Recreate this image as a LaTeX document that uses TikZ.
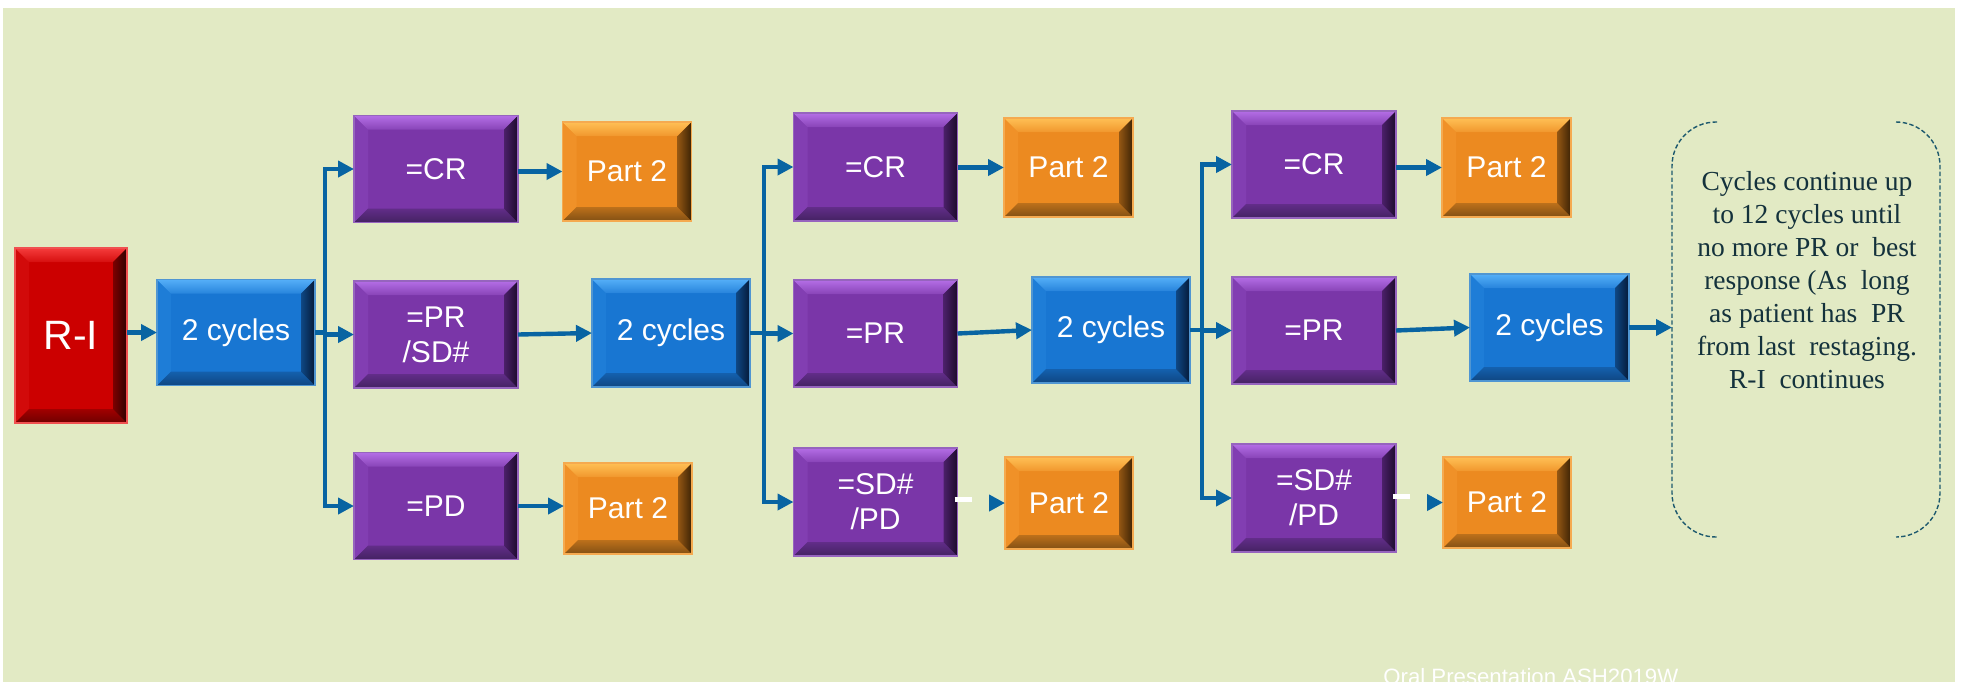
\documentclass[tikz,border=0pt]{standalone}
\usepackage{fontspec}
\setmainfont{Liberation Serif}
\newfontfamily\arialf{Liberation Sans}
\usetikzlibrary{arrows.meta}

\definecolor{bg}{RGB}{226,234,196}
\definecolor{arr}{RGB}{8,100,162}
\definecolor{notetext}{RGB}{20,50,60}
\definecolor{brk}{RGB}{30,90,110}
% purple
\definecolor{pface}{RGB}{122,54,168}
\definecolor{ptop}{RGB}{180,110,230}
\definecolor{pbot}{RGB}{68,34,98}
\definecolor{pright}{RGB}{28,10,42}
\definecolor{pleft}{RGB}{130,62,178}
\definecolor{pedge}{RGB}{150,100,190}
% blue
\definecolor{bface}{RGB}{24,118,210}
\definecolor{btop}{RGB}{85,175,248}
\definecolor{bbot}{RGB}{15,70,130}
\definecolor{bright}{RGB}{5,25,55}
\definecolor{bleft}{RGB}{30,125,215}
\definecolor{bedge}{RGB}{80,150,210}
% orange
\definecolor{oface}{RGB}{236,138,32}
\definecolor{otop}{RGB}{255,192,85}
\definecolor{obot}{RGB}{130,80,20}
\definecolor{oright}{RGB}{60,35,5}
\definecolor{oleft}{RGB}{240,145,40}
\definecolor{oedge}{RGB}{245,170,80}
% red
\definecolor{rface}{RGB}{204,0,0}
\definecolor{rtop}{RGB}{245,60,60}
\definecolor{rbot}{RGB}{110,0,0}
\definecolor{rright}{RGB}{45,0,0}
\definecolor{rleft}{RGB}{210,10,10}
\definecolor{redge}{RGB}{240,80,80}

\tikzset{
  bevel/.style n args={5}{fill=#1, path picture={
    \path (path picture bounding box.north west) coordinate (bnw)
          (path picture bounding box.north east) coordinate (bne)
          (path picture bounding box.south west) coordinate (bsw)
          (path picture bounding box.south east) coordinate (bse);
    \fill[#5] (bnw) -- (bsw) -- ([shift={(7pt,7pt)}]bsw) -- ([shift={(7pt,-7pt)}]bnw) -- cycle;
    \shade[top color=#2, bottom color=#1!75!#2] (bnw) -- (bne) -- ([shift={(-7pt,-7pt)}]bne) -- ([shift={(7pt,-7pt)}]bnw) -- cycle;
    \shade[top color=#1!55!#3, bottom color=#3] (bsw) -- (bse) -- ([shift={(-7pt,7pt)}]bse) -- ([shift={(7pt,7pt)}]bsw) -- cycle;
    \shade[left color=#1!50!#4, right color=#4] (bne) -- (bse) -- ([shift={(-7pt,7pt)}]bse) -- ([shift={(-7pt,-7pt)}]bne) -- cycle;
  }},
  box/.style={rectangle, inner sep=0pt, outer sep=0pt, text=white, align=center,
    line width=0.6pt, font=\arialf\fontsize{15}{17.5}\selectfont},
  purbox/.style={box, bevel={pface}{ptop}{pbot}{pright}{pleft}, draw=pedge,
    minimum width=82pt, minimum height=53.5pt},
  bluebox/.style={box, bevel={bface}{btop}{bbot}{bright}{bleft}, draw=bedge,
    minimum width=79pt, minimum height=53pt},
  orbox/.style={box, bevel={oface}{otop}{obot}{oright}{oleft}, draw=oedge,
    minimum width=64.5pt, minimum height=49.5pt},
  redbox/.style={box, bevel={rface}{rtop}{rbot}{rright}{rleft}, draw=redge,
    minimum width=56pt, minimum height=87.5pt, font=\arialf\fontsize{20.5}{24}\selectfont},
  link/.style={draw=arr, line width=2.2pt},
  conn/.style={link, -{Triangle[length=8pt,width=8pt]}},
  fork/.style={link, {Triangle[length=8pt,width=8pt]}-{Triangle[length=8pt,width=8pt]}},
  whitedash/.style={draw=white, line width=2.5pt},
  bracket/.style={draw=brk, line width=0.7pt, dash pattern=on 2.2pt off 1.2pt, rounded corners=22pt},
}

\begin{document}
\begin{tikzpicture}[x=0.5pt,y=-0.5pt]
\useasboundingbox (0,0) rectangle (1961,682);
\fill[bg] (3,8) rectangle (1955,682);

% column 0
\node[redbox] (ri) at (71,335.5) {R-I};
\node[bluebox] (c1) at (236,332.5) {2 cycles};

% column 1
\node[purbox] (cr1) at (436,169) {=CR};
\node[purbox] (pr1) at (436,334.5) {=PR\\/SD\#};
\node[purbox] (pd1) at (436,506) {=PD};
\node[orbox] (p1a) at (627,171.5) {Part 2};
\node[orbox, minimum width=64pt, minimum height=45.5pt] (p1b) at (628,508.5) {Part 2};
\node[bluebox, minimum height=54pt] (c2) at (671,333) {2 cycles};

% column 2
\node[purbox, minimum height=54pt] (cr2) at (875.5,167) {=CR};
\node[purbox] (pr2) at (875.5,333.5) {=PR};
\node[purbox, minimum height=54pt] (sd2) at (875.5,502) {=SD\#\\/PD};
\node[orbox] (p2a) at (1068.5,167.5) {Part 2};
\node[orbox, minimum width=64pt, minimum height=46pt] (p2b) at (1069,503) {Part 2};
\node[bluebox] (c3) at (1111,330) {2 cycles};

% column 3
\node[purbox] (cr3) at (1314,164.5) {=CR};
\node[purbox] (pr3) at (1314,330.5) {=PR};
\node[purbox, minimum height=54pt] (sd3) at (1314,498) {=SD\#\\/PD};
\node[orbox] (p3a) at (1506.5,167.5) {Part 2};
\node[orbox, minimum width=64pt, minimum height=45.5pt] (p3b) at (1507,502.5) {Part 2};
\node[bluebox, minimum width=79.5pt, minimum height=53.5pt] (c4) at (1549.5,327.5) {2 cycles};

% note with brackets
\node[minimum width=134pt, minimum height=207.5pt, inner sep=0pt, outer sep=0pt] (brace) at (1806,329.5) {};
\node[anchor=north, inner sep=0pt, align=center, text=notetext,
  font=\fontsize{13.75}{16.5}\selectfont] (note) at (1807,171)
  {Cycles continue up\\to 12 cycles until\\no more PR or\ \ best\\response (As\ \ long\\as patient has\ \ PR\\from last\ \ restaging.\\R-I\ \ continues};
\draw[bracket] ([shift={(45,0)}]brace.north west) -- (brace.north west) -- (brace.south west) -- ([shift={(45,0)}]brace.south west);
\draw[bracket] ([shift={(-44,0)}]brace.north east) -- (brace.north east) -- (brace.south east) -- ([shift={(-44,0)}]brace.south east);

% trunk coordinates
\coordinate (t1) at (325,333);
\coordinate (t2) at (764,333);
\coordinate (t3) at (1202,328);

% connectors
\draw[conn] (ri.east |- c1.west) -- (c1.west);
\draw[link] (c1.east) -- (c1.east -| t1);
\draw[fork] (cr1.west) -- (cr1.west -| t1) -- (pd1.west -| t1) -- (pd1.west);
\draw[conn] (pr1.west -| t1) -- (pr1.west);
\draw[conn] (cr1.east |- p1a.west) -- (p1a.west);
\draw[conn] (pd1.east) -- (pd1.east -| p1b.west);
\draw[conn] (pr1.east) -- (c2.west);

\draw[link] (c2.east) -- (c2.east -| t2);
\draw[fork] (cr2.west) -- (cr2.west -| t2) -- (sd2.west -| t2) -- (sd2.west);
\draw[conn] (pr2.west -| t2) -- (pr2.west);
\draw[conn] (cr2.east |- p2a.west) -- (p2a.west);
\draw[conn] (pr2.east) -- (c3.west);
\draw[whitedash] ([shift={(-3,-3)}]sd2.east) -- ([shift={(14,-3)}]sd2.east);
\draw[conn] ([shift={(-16,0)}]p2b.west) -- (p2b.west);

\draw[link] (c3.east) -- (c3.east -| t3);
\draw[fork] (cr3.west) -- (cr3.west -| t3) -- (sd3.west -| t3) -- (sd3.west);
\draw[conn] (pr3.west -| t3) -- (pr3.west);
\draw[conn] (cr3.east |- p3a.west) -- (p3a.west);
\draw[conn] (pr3.east) -- (c4.west);
\draw[whitedash] ([shift={(-3,-1.5)}]sd3.east) -- ([shift={(14,-1.5)}]sd3.east);
\draw[conn] ([shift={(-16,0)}]p3b.west) -- (p3b.west);

\draw[conn] (c4.east) -- (c4.east -| brace.west);

% footer (cut off at the bottom edge)
\node[anchor=base west, inner sep=0pt, text=white, font=\arialf\fontsize{11.1}{13}\selectfont] (foot) at (1383,684) {Oral Presentation ASH2019W};
\end{tikzpicture}
\end{document}
